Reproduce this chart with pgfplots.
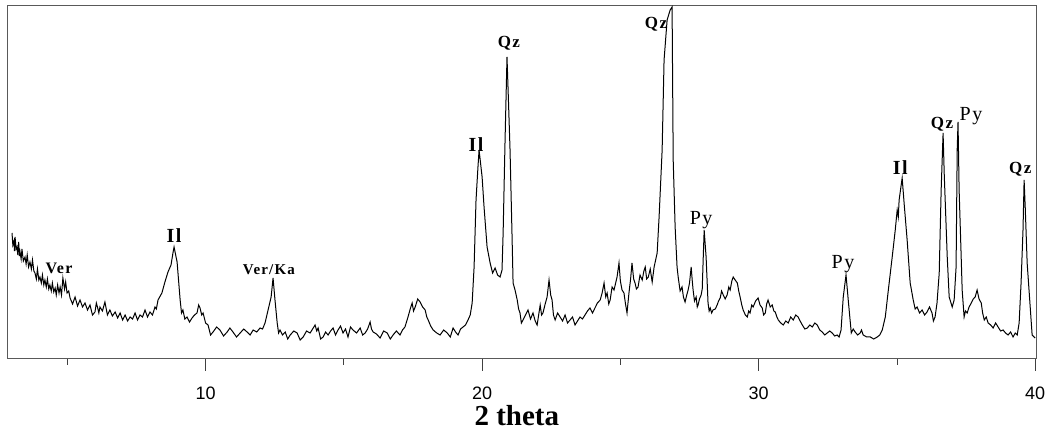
\documentclass[border=0pt]{standalone}
\usepackage{pgfplots}
\pgfplotsset{compat=1.18}
\usepackage{fontspec}
\setmainfont{Liberation Serif}
\newfontfamily\sansf{Liberation Sans}
\newfontfamily\lbl[LetterSpace=8]{Liberation Serif}

% XRD pattern, intensity in arbitrary units
\pgfplotstableread{
x y
3.00 126
3.03 114
3.07 118
3.09 108
3.11 122
3.15 110
3.18 112
3.21 104
3.24 117
3.27 103
3.29 107
3.33 100
3.36 110
3.41 98
3.47 102
3.51 95
3.55 104
3.60 92
3.65 97
3.70 90
3.74 99
3.79 88
3.83 86
3.88 80
3.92 90
3.97 79
4.01 82
4.06 76
4.10 84
4.15 74
4.19 79
4.24 72
4.28 80
4.33 70
4.37 74
4.42 68
4.46 76
4.51 67
4.56 71
4.60 64
4.65 74
4.70 66
4.74 72
4.79 64
4.84 81
4.90 70
4.94 77
4.99 66
5.05 68
5.10 61
5.19 55
5.28 62
5.37 53
5.46 59
5.55 52
5.64 56
5.73 49
5.82 54
5.91 44
6.00 47
6.05 56
6.09 52
6.14 46
6.18 52
6.27 48
6.36 57
6.45 44
6.54 49
6.63 43
6.73 47
6.82 41
6.91 46
7.00 39
7.09 44
7.18 38
7.27 42
7.36 40
7.45 46
7.54 39
7.63 44
7.72 42
7.81 49
7.90 42
7.99 47
8.08 44
8.17 52
8.22 50
8.28 59
8.42 66
8.53 77
8.64 87
8.75 94
8.82 106
8.86 112
8.97 97
9.08 59
9.13 46
9.18 49
9.25 40
9.33 42
9.42 37
9.51 41
9.60 44
9.69 46
9.75 54
9.80 51
9.86 44
9.91 46
10.00 36
10.09 34
10.18 24
10.27 27
10.40 32
10.52 29
10.65 23
10.78 27
10.88 31
10.99 27
11.12 22
11.25 26
11.38 30
11.50 27
11.61 24
11.72 29
11.85 27
11.97 31
12.06 30
12.15 36
12.26 49
12.37 62
12.44 81
12.51 59
12.59 36
12.64 26
12.69 29
12.78 24
12.88 27
12.97 20
13.06 24
13.19 28
13.31 26
13.42 19
13.53 22
13.65 28
13.78 26
13.87 30
13.96 34
14.02 28
14.07 31
14.16 20
14.25 22
14.34 27
14.43 24
14.52 28
14.61 31
14.70 24
14.79 29
14.88 33
14.97 26
15.06 30
15.15 22
15.24 32
15.33 29
15.46 26
15.59 31
15.68 24
15.77 26
15.86 30
15.95 37
16.00 30
16.06 27
16.18 25
16.31 21
16.44 28
16.57 26
16.68 20
16.78 24
16.90 28
17.03 24
17.12 29
17.21 32
17.32 42
17.40 50
17.47 56
17.52 48
17.58 52
17.67 60
17.76 57
17.85 52
17.94 49
18.00 42
18.05 39
18.14 33
18.23 29
18.36 26
18.48 24
18.61 29
18.74 26
18.85 22
18.95 31
19.04 27
19.13 24
19.22 30
19.31 32
19.40 34
19.49 39
19.57 44
19.64 56
19.71 92
19.78 159
19.85 192
19.89 209
20.00 182
20.07 152
20.18 112
20.29 96
20.38 86
20.47 91
20.56 84
20.65 82
20.72 89
20.76 126
20.83 219
20.90 302
20.94 269
21.01 209
21.08 126
21.12 76
21.19 69
21.27 59
21.32 50
21.37 46
21.42 36
21.48 39
21.57 44
21.66 49
21.75 40
21.84 46
21.92 38
21.99 34
22.05 45
22.10 54
22.15 44
22.20 46
22.28 55
22.35 62
22.42 79
22.48 64
22.53 59
22.58 44
22.64 39
22.73 46
22.82 42
22.91 38
23.00 44
23.09 36
23.18 39
23.27 42
23.36 34
23.45 38
23.54 42
23.63 40
23.72 44
23.81 48
23.90 51
23.99 46
24.08 51
24.17 56
24.27 59
24.34 66
24.41 76
24.47 62
24.52 66
24.58 55
24.63 59
24.70 72
24.77 69
24.88 82
24.95 96
25.00 78
25.06 69
25.13 66
25.18 56
25.24 46
25.31 66
25.37 80
25.42 96
25.48 80
25.53 76
25.58 70
25.64 72
25.71 84
25.79 79
25.85 88
25.90 92
25.95 80
26.01 82
26.08 90
26.15 77
26.22 92
26.33 106
26.40 142
26.51 209
26.58 299
26.69 339
26.80 349
26.87 352
26.91 199
26.98 132
27.05 92
27.09 82
27.16 68
27.23 72
27.28 62
27.34 57
27.40 64
27.45 69
27.50 76
27.56 92
27.60 78
27.63 69
27.68 58
27.74 62
27.78 52
27.81 54
27.86 60
27.92 64
27.96 70
27.99 96
28.03 129
28.10 102
28.17 56
28.21 48
28.25 51
28.30 46
28.35 49
28.43 50
28.50 54
28.55 58
28.61 61
28.66 68
28.72 64
28.79 60
28.86 64
28.92 72
28.97 69
29.03 78
29.08 82
29.15 79
29.23 76
29.28 68
29.33 62
29.39 54
29.44 49
29.52 44
29.59 42
29.64 48
29.69 46
29.75 54
29.80 52
29.89 58
29.98 61
30.05 54
30.13 51
30.18 44
30.24 46
30.29 55
30.34 59
30.42 52
30.49 54
30.55 48
30.60 47
30.66 42
30.71 39
30.80 36
30.89 34
30.98 38
31.07 36
31.16 42
31.25 39
31.34 44
31.43 42
31.50 38
31.58 34
31.67 30
31.76 31
31.85 34
31.94 32
32.03 36
32.12 34
32.21 29
32.30 27
32.39 24
32.48 26
32.57 28
32.66 26
32.75 23
32.84 24
32.91 22
32.98 29
33.06 62
33.16 84
33.24 59
33.35 26
33.42 30
33.49 27
33.58 24
33.67 26
33.72 29
33.78 24
33.91 22
34.04 22
34.16 20
34.29 22
34.38 24
34.47 29
34.58 42
34.69 69
34.83 102
34.94 129
35.01 149
35.05 142
35.08 159
35.19 181
35.26 156
35.37 119
35.48 76
35.59 59
35.66 50
35.73 52
35.82 46
35.91 49
36.00 44
36.09 47
36.18 52
36.27 46
36.32 38
36.38 42
36.45 56
36.53 86
36.60 169
36.67 226
36.71 186
36.82 102
36.89 62
37.00 52
37.07 59
37.14 92
37.18 209
37.21 237
37.25 169
37.32 106
37.36 69
37.43 42
37.48 48
37.54 46
37.61 52
37.69 56
37.76 60
37.83 62
37.90 69
37.97 60
38.05 56
38.10 46
38.16 39
38.23 42
38.30 36
38.39 34
38.48 31
38.57 36
38.66 32
38.75 28
38.84 29
38.93 26
39.02 24
39.11 27
39.20 22
39.28 26
39.35 24
39.42 36
39.49 76
39.56 129
39.60 179
39.64 152
39.71 96
39.82 52
39.89 24
40.00 21
}\xrd

\begin{document}
\begin{tikzpicture}
\begin{axis}[
    name=ax,
    scale only axis,
    width=1028pt, height=354pt,
    xmin=2.855, xmax=40.03,
    ymin=0, ymax=354,
    axis line style={black!65, line width=1pt},
    xtick={10,20,30,40},
    minor xtick={5,15,25,35},
    ytick=\empty,
    xtick pos=bottom,
    tick align=outside,
    major tick length=12pt,
    minor tick length=6pt,
    tick style={black!75, line width=0.8pt},
    /pgf/number format/assume math mode=true,
    xticklabel style={font=\sansf\fontsize{18}{18}\selectfont, yshift=-12pt},
    xlabel={2 theta},
    xlabel style={font=\bfseries\fontsize{29}{29}\selectfont,
        at={(axis description cs:0.495,0)}, anchor=center, yshift=-57pt},
    clip=true,
]
\addplot[black, line width=1pt] table[x=x, y=y] {\xrd};

\node[font=\lbl\bfseries\fontsize{16}{16}\selectfont] at (axis cs:4.70,91) {Ver};
\node[font=\lbl\bfseries\fontsize{20}{20}\selectfont] at (axis cs:8.86,123) {Il};
\node[font=\lbl\bfseries\fontsize{15}{15}\selectfont] at (axis cs:12.29,89) {Ver/Ka};
\node[font=\lbl\bfseries\fontsize{20}{20}\selectfont] at (axis cs:19.78,214) {Il};
\node[font=\lbl\bfseries\fontsize{17}{17}\selectfont] at (axis cs:20.97,316) {Qz};
\node[font=\lbl\bfseries\fontsize{17}{17}\selectfont] at (axis cs:26.29,335) {Qz};
\node[font=\lbl\fontsize{20}{20}\selectfont] at (axis cs:27.92,139) {Py};
\node[font=\lbl\fontsize{20}{20}\selectfont] at (axis cs:33.05,95) {Py};
\node[font=\lbl\bfseries\fontsize{20}{20}\selectfont] at (axis cs:35.12,191) {Il};
\node[font=\lbl\bfseries\fontsize{17}{17}\selectfont] at (axis cs:36.63,235) {Qz};
\node[font=\lbl\fontsize{20}{20}\selectfont] at (axis cs:37.68,243) {Py};
\node[font=\lbl\bfseries\fontsize{17}{17}\selectfont] at (axis cs:39.46,190) {Qz};
\end{axis}
\pgfresetboundingbox
\path ([xshift=-8pt,yshift=-73pt]ax.south west) rectangle ([xshift=14pt,yshift=5pt]ax.north east);
\end{tikzpicture}
\end{document}
